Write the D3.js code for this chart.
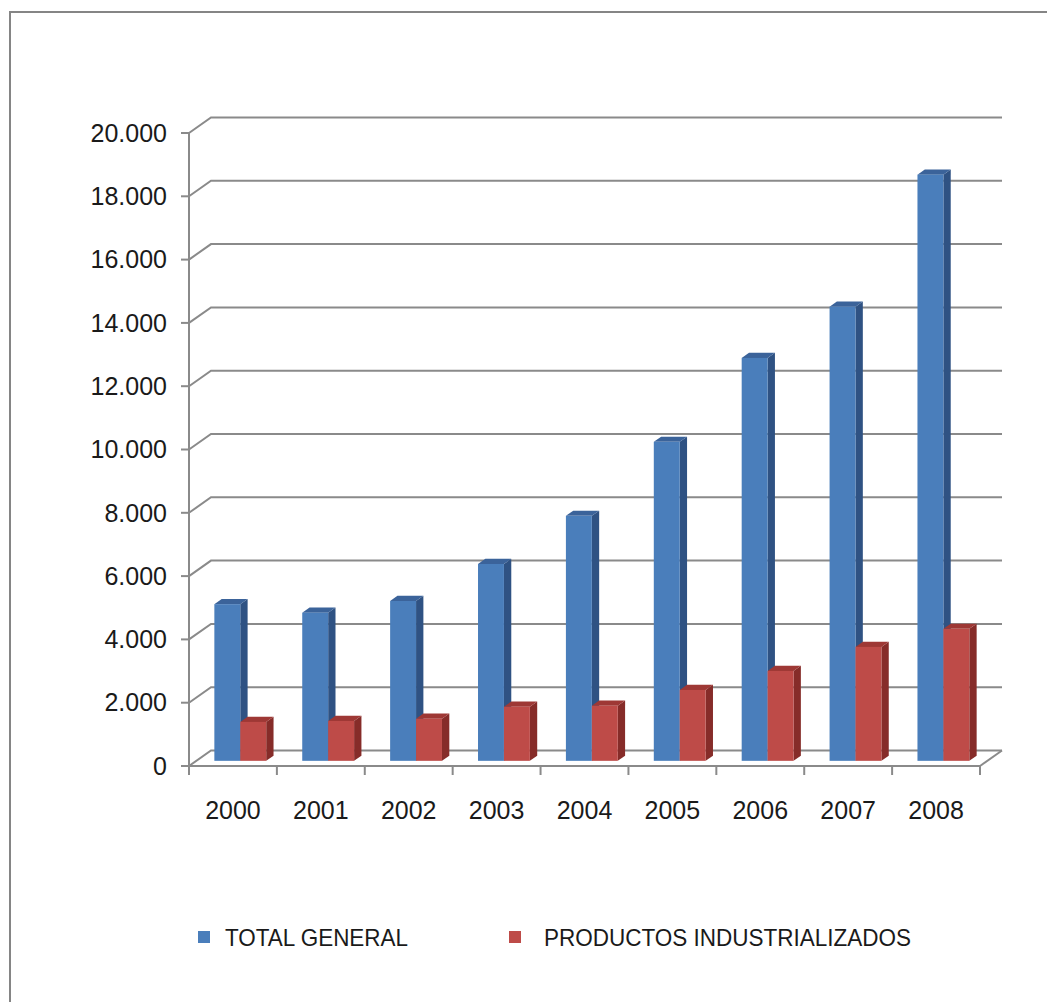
<!DOCTYPE html>
<html>
<head>
<meta charset="utf-8">
<script src="https://cdn.jsdelivr.net/npm/d3@7"></script>
<style>
  html, body { margin: 0; padding: 0; background: #fff; }
  svg { display: block; }
  text { font-family: "Liberation Sans", Arial, sans-serif; fill: #1a1a1a; }
</style>
</head>
<body>
<svg id="chart" width="1047" height="1002"></svg>
<script>
// Exportaciones por año (valores en miles)
const years = ["2000", "2001", "2002", "2003", "2004", "2005", "2006", "2007", "2008"];
const totalGeneral = [4950, 4680, 5050, 6220, 7740, 10080, 12730, 14350, 18520];
const productosIndustrializados = [1230, 1260, 1330, 1710, 1740, 2240, 2840, 3600, 4170];
const seriesNames = ["TOTAL GENERAL", "PRODUCTOS INDUSTRIALIZADOS"];
const yTickValues = [0, 2000, 4000, 6000, 8000, 10000, 12000, 14000, 16000, 18000, 20000];

(function () {
  const svg = d3.select("#chart");

  // Chart frame (only top and left edges fall inside the canvas)
  svg.append("rect")
    .attr("x", 10).attr("y", 12)
    .attr("width", 1200).attr("height", 1200)
    .attr("fill", "#fff")
    .attr("stroke", "#858585").attr("stroke-width", 2);

  // Plot geometry: front plane and oblique depth offset of the 3D box
  const plotLeft = 189, plotRight = 980, plotBottom = 766, plotTop = 133;
  const depthX = 22, depthY = -15.5;

  const x = d3.scaleBand().domain(years).range([plotLeft, plotRight]).paddingInner(0.41).paddingOuter(0.205);
  const x1 = d3.scaleBand().domain(seriesNames).range([0, x.bandwidth()]);
  const y = d3.scaleLinear().domain([0, 20000]).range([plotBottom, plotTop]);

  const locale = d3.formatLocale({ decimal: ",", thousands: ".", grouping: [3], currency: ["", ""] });
  const fmt = locale.format(",");

  const gridColor = "#8a8a8a";

  // Back wall gridlines plus their diagonal on the side wall
  const grid = svg.append("g").attr("fill", "none").attr("stroke", gridColor).attr("stroke-width", 2);
  yTickValues.forEach(v => {
    const yy = y(v);
    grid.append("path")
      .attr("d", `M${plotLeft},${yy}L${plotLeft + depthX},${yy + depthY}L${plotRight + depthX},${yy + depthY}`);
  });

  // Floor right edge
  grid.append("path").attr("d", `M${plotRight},${plotBottom}L${plotRight + depthX},${plotBottom + depthY}`);

  // Bars: the front face sits one third into the depth, the bar spans one third
  const bx = depthX / 3, by = depthY / 3;
  const colors = {
    "TOTAL GENERAL": { front: "#4A7EBB", side: "#2F5283", top: "#3B639A" },
    "PRODUCTOS INDUSTRIALIZADOS": { front: "#BE4B48", side: "#862C29", top: "#9E3835" }
  };
  const rows = years.map((yr, i) => ({ year: yr, values: [
    { key: seriesNames[0], value: totalGeneral[i] },
    { key: seriesNames[1], value: productosIndustrializados[i] }
  ]}));

  const bars = svg.append("g");
  rows.forEach(r => {
    r.values.forEach(d => {
      const x0 = x(r.year) + x1(d.key) + bx;
      const w = x1.bandwidth();
      const y0 = y(0) + by;
      const yt = y(d.value) + by;
      const c = colors[d.key];
      const g = bars.append("g");
      // side face
      g.append("path")
        .attr("d", `M${x0 + w},${yt}L${x0 + w + bx},${yt + by}L${x0 + w + bx},${y0 + by}L${x0 + w},${y0}Z`)
        .attr("fill", c.side);
      // top face
      g.append("path")
        .attr("d", `M${x0},${yt}L${x0 + bx},${yt + by}L${x0 + w + bx},${yt + by}L${x0 + w},${yt}Z`)
        .attr("fill", c.top);
      // front face
      g.append("rect")
        .attr("x", x0).attr("y", yt)
        .attr("width", w).attr("height", y0 - yt)
        .attr("fill", c.front);
    });
  });

  // Front axes
  const axes = svg.append("g").attr("fill", "none").attr("stroke", gridColor).attr("stroke-width", 2);
  axes.append("path").attr("d", `M${plotLeft},${plotTop}L${plotLeft},${plotBottom}L${plotRight},${plotBottom}`);
  yTickValues.forEach(v => {
    axes.append("path").attr("d", `M${plotLeft - 8},${y(v)}L${plotLeft},${y(v)}`);
  });
  const boundaries = years.map(yr => x(yr) - x.step() * x.paddingInner() / 2);
  boundaries.push(plotRight);
  boundaries.forEach(bxv => {
    axes.append("path").attr("d", `M${bxv},${plotBottom}L${bxv},${plotBottom + 9}`);
  });

  // Y tick labels
  svg.append("g").selectAll("text").data(yTickValues).join("text")
    .attr("x", 167).attr("y", d => y(d))
    .attr("dy", "0.35em")
    .attr("text-anchor", "end")
    .attr("font-size", 25)
    .text(d => fmt(d));

  // X tick labels
  svg.append("g").selectAll("text").data(years).join("text")
    .attr("x", d => x(d) + x.bandwidth() / 2)
    .attr("y", 819)
    .attr("text-anchor", "middle")
    .attr("font-size", 25)
    .text(d => d);

  // Legend
  const legendItems = [
    { name: seriesNames[0], sx: 198, tx: 225, len: 183 },
    { name: seriesNames[1], sx: 509, tx: 544, len: 367 }
  ];
  const legend = svg.append("g");
  legendItems.forEach(it => {
    legend.append("rect")
      .attr("x", it.sx).attr("y", 931).attr("width", 12).attr("height", 12)
      .attr("fill", colors[it.name].front);
    legend.append("text")
      .attr("x", it.tx).attr("y", 946)
      .attr("font-size", 24)
      .attr("textLength", it.len).attr("lengthAdjust", "spacingAndGlyphs")
      .text(it.name);
  });
})();
</script>
</body>
</html>
